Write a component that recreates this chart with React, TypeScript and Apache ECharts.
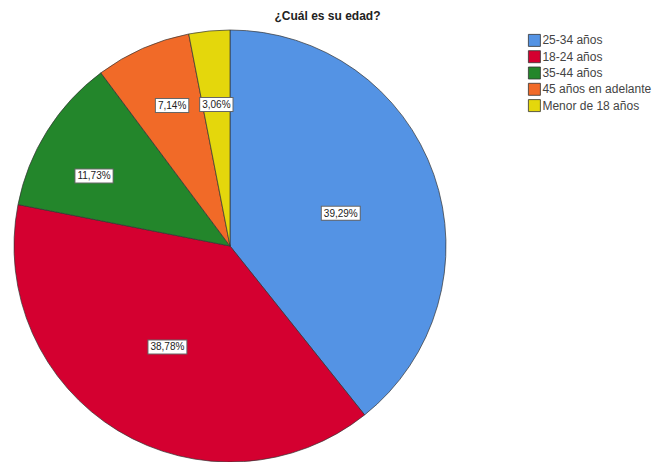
import React, { useEffect, useRef } from "react";
import * as echarts from "echarts";

const categories = ["25-34 años", "18-24 años", "35-44 años", "45 años en adelante", "Menor de 18 años"];
const values = [39.29, 38.78, 11.73, 7.14, 3.06];
const colors = ["#5493E4", "#D40030", "#23862B", "#F16A28", "#E4D70C"];
const labelOffsets = [[6, 4], [-5, 6], [-42, -11], [-13, -39], [-3, -31]];

export default function App() {
  const ref = useRef<HTMLDivElement>(null);
  useEffect(() => {
    const chart = echarts.init(ref.current!, null, { renderer: "svg" });
    chart.setOption({
      animation: false,
      backgroundColor: "#ffffff",
      title: {
        text: "¿Cuál es su edad?",
        left: "center",
        top: 5,
        textStyle: { fontFamily: "Liberation Sans", fontSize: 12, fontWeight: "bold", color: "#222" },
      },
      legend: {
        orient: "vertical",
        left: 528,
        top: 34,
        padding: 0,
        itemWidth: 12,
        itemHeight: 12,
        itemGap: 3.5,
        icon: "rect",
        textStyle: { fontFamily: "Liberation Sans", fontSize: 12, color: "#444", padding: [0, 0, 0, -3] },
        itemStyle: { borderColor: "#333", borderWidth: 0.8 },
        data: categories,
      },
      series: [
        {
          type: "pie",
          center: [230, 246],
          radius: [0, 216],
          startAngle: 90,
          clockwise: true,
          avoidLabelOverlap: false,
          itemStyle: { borderColor: "#333", borderWidth: 0.7 },
          emphasis: { disabled: true },
          label: {
            show: true,
            position: "inside",
            formatter: (p: any) => p.value.toFixed(2).replace(".", ",") + "%",
            fontFamily: "Liberation Sans",
            fontSize: 10,
            color: "#222",
            backgroundColor: "#fff",
            borderColor: "#666",
            borderWidth: 1,
            padding: [2, 2, 1, 2],
          },
          labelLine: { show: false },
          data: categories.map((c, i) => ({
            name: c,
            value: values[i],
            itemStyle: { color: colors[i] },
            label: { offset: labelOffsets[i] },
          })),
        },
      ],
    });
    return () => chart.dispose();
  }, []);
  return <div ref={ref} style={{ position: "fixed", left: 0, top: 0, width: 655, height: 462 }} />;
}
